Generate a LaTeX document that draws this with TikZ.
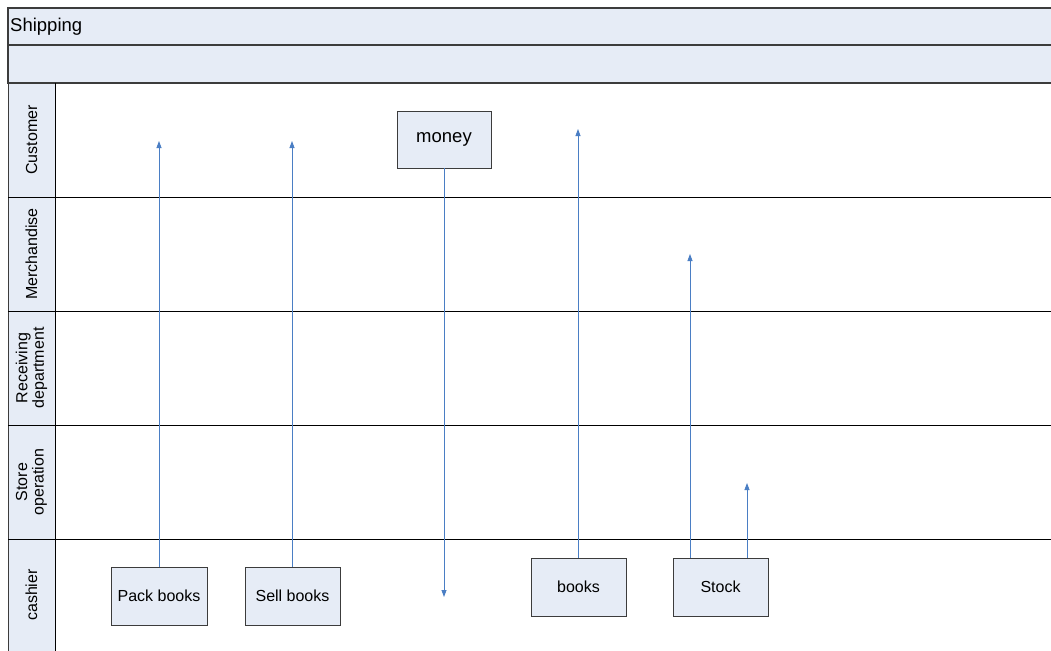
\documentclass[tikz,border=0pt]{standalone}
\usepackage{fontspec}
\setmainfont{Liberation Sans}
\usetikzlibrary{arrows.meta}
\definecolor{laneFill}{RGB}{230,236,246}
\definecolor{flowBlue}{RGB}{74,126,196}
\definecolor{barEdge}{RGB}{60,60,60}
\tikzset{
  bar/.style={draw=barEdge, line width=1.1pt, fill=laneFill},
  lanehead/.style={draw=barEdge, line width=0.8pt, fill=laneFill},
  laneline/.style={draw=black, line width=0.9pt},
  lanetext/.style={rotate=90, align=center, font=\fontsize{16}{16.5}\selectfont},
  task/.style={draw=barEdge, line width=0.9pt, fill=laneFill, minimum width=95pt, minimum height=58pt, inner sep=0pt, font=\fontsize{16}{18}\selectfont},
  flow/.style={draw=flowBlue, line width=0.8pt, -{Triangle[length=7pt,width=5pt]}},
}
\begin{document}
\begin{tikzpicture}[x=1pt,y=-1pt]
\useasboundingbox (0,0) rectangle (1051,650);
\begin{scope}
\clip (0,0) rectangle (1051,650);
% header bars
\draw[bar] (8,8) rectangle (1060,45);
\draw[bar] (8,45) rectangle (1060,83);
\node[anchor=west, inner sep=0pt, font=\fontsize{18.5}{20}\selectfont] (title) at (10,26.5) {Shipping};
% lane heads
\draw[lanehead] (8,83) rectangle (55,660);
\draw[laneline] (55,83) -- (55,660);
\foreach \y in {197,311,425,539} {
  \draw[laneline] (8,\y) -- (1060,\y);
}
\node[lanetext] (l1) at (31.5,140) {Customer};
\node[lanetext] (l2) at (31.5,254) {Merchandise};
\node[lanetext] (l3) at (31.5,368) {Receiving\\department};
\node[lanetext] (l4) at (31.5,482) {Store\\operation};
\node[lanetext] (l5) at (31.5,595) {cashier};
% tasks
\node[task, font=\fontsize{18.5}{20}\selectfont, minimum width=94pt, minimum height=57pt] (money) at (444,139.5) {money};
\node[task, minimum width=96pt] (pack) at (159,596) {Pack books};
\node[task] (sell) at (292.5,596) {Sell books};
\node[task] (books) at (578.5,587) {books};
\node[task] (stock) at (720.5,587) {Stock};
% flows
\coordinate (pEnd) at (159,141);
\coordinate (sEnd) at (292,141);
\coordinate (mEnd) at (444,597);
\coordinate (bEnd) at (578,129);
\coordinate (s1End) at (690,254);
\coordinate (s2End) at (747,483);
\draw[flow] (pack.north) -- (pEnd);
\draw[flow] (sell.north -| sEnd) -- (sEnd);
\draw[flow] (money.south) -- (mEnd);
\draw[flow] (books.north -| bEnd) -- (bEnd);
\draw[flow] (stock.north -| s1End) -- (s1End);
\draw[flow] (stock.north -| s2End) -- (s2End);
\end{scope}
\end{tikzpicture}
\end{document}
